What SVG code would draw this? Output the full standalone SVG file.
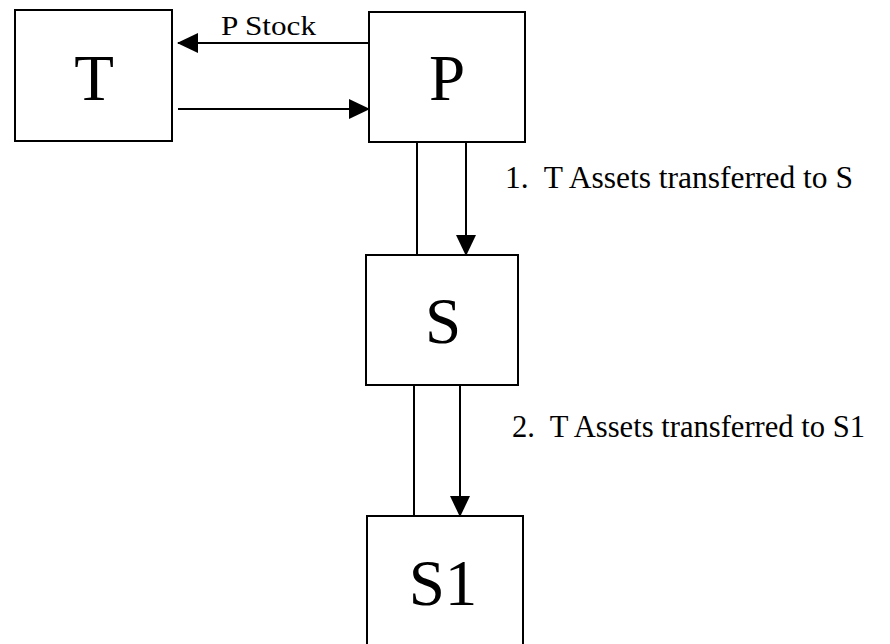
<svg xmlns="http://www.w3.org/2000/svg" width="890" height="644" viewBox="0 0 890 644">
<defs>
<style>
.box{fill:#fff;stroke:#000;stroke-width:2}
.big{font-family:"Liberation Serif","Times New Roman",serif;font-size:65px;fill:#000;text-anchor:middle}
.lbl{font-family:"Liberation Serif","Times New Roman",serif;font-size:31px;fill:#000}
.ln{stroke:#000;stroke-width:2;fill:none}
</style>
<marker id="ah" markerUnits="userSpaceOnUse" markerWidth="22" markerHeight="20" refX="20" refY="10" orient="auto">
<path d="M0,0 L21,10 L0,20 Z" fill="#000"/>
</marker>
</defs>
<rect width="890" height="644" fill="#fff"/>
<g id="connectors">
<line class="ln" x1="369" y1="43" x2="178" y2="43" marker-end="url(#ah)"/>
<line class="ln" x1="178" y1="109" x2="369" y2="109" marker-end="url(#ah)"/>
<line class="ln" x1="417" y1="142" x2="417" y2="255"/>
<line class="ln" x1="466" y1="142" x2="466" y2="255" marker-end="url(#ah)"/>
<line class="ln" x1="414" y1="385" x2="414" y2="516"/>
<line class="ln" x1="460" y1="385" x2="460" y2="516" marker-end="url(#ah)"/>
<text class="lbl" x="221" y="35" textLength="95" lengthAdjust="spacingAndGlyphs" style="font-size:28px">P Stock</text>
<text class="lbl" x="505" y="188" textLength="348" lengthAdjust="spacingAndGlyphs" xml:space="preserve">1.  T Assets transferred to S</text>
<text class="lbl" x="512" y="437" textLength="353" lengthAdjust="spacingAndGlyphs" xml:space="preserve">2.  T Assets transferred to S1</text>
</g>
<g id="T">
<rect class="box" x="15" y="10" width="157" height="131"/>
<text class="big" x="94" y="100">T</text>
</g>
<g id="P">
<rect class="box" x="369" y="12" width="156" height="130"/>
<text class="big" x="447" y="100">P</text>
</g>
<g id="S">
<rect class="box" x="366" y="255" width="152" height="130"/>
<text class="big" x="443" y="343">S</text>
</g>
<g id="S1">
<rect class="box" x="367" y="516" width="156" height="140"/>
<text class="big" x="443" y="605">S1</text>
</g>
</svg>
